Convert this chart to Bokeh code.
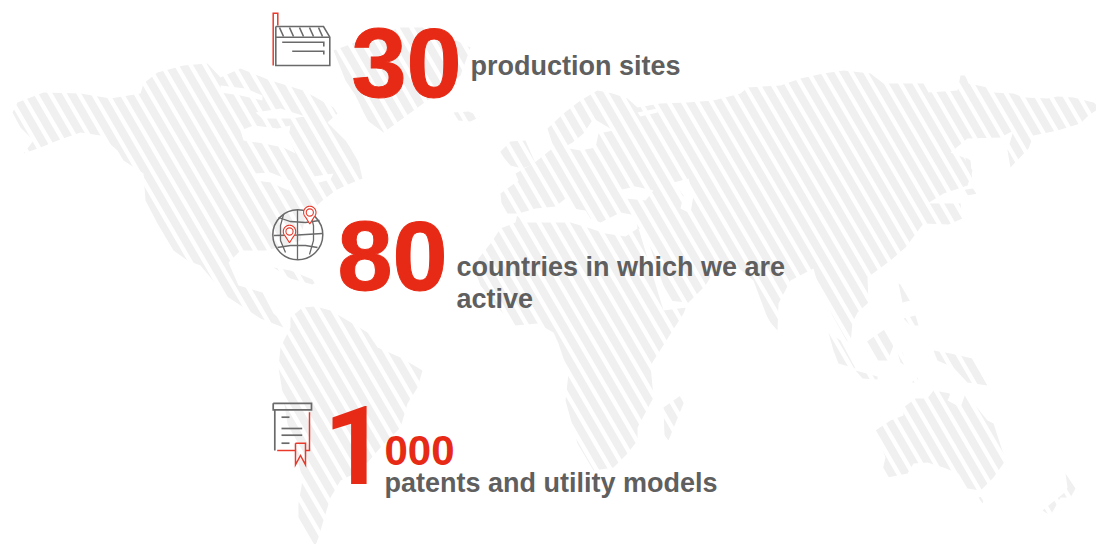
from bokeh.plotting import figure
from bokeh.embed import file_html
from bokeh.resources import INLINE
from bokeh.core.properties import value
import numpy as np

RED = "#e72a15"
GRAY = "#5f5f5f"
ICON = "#6a6a6a"
MAP = "#f0f0f0"

north_america = [(12,112),(17,102),(43,92),(80,93),(110,98),(140,93),(143,83),(157,72),(183,65),(207,63),(220,77),(240,68),(270,80),(303,90),(333,107),(337,113),(327,122),(345,140),(357,157),(362,178),(345,185),(335,190),(322,200),(305,215),(300,240),(285,245),(265,250),(240,250),(228,262),(238,285),(262,292),(273,313),(283,322),(283,327),(260,318),(225,295),(200,265),(187,260),(173,250),(157,223),(145,200),(143,173),(123,160),(117,150),(100,135),(80,132),(57,140),(40,147),(23,153),(33,140),(20,127)]
greenland = [(333,50),(360,40),(400,27),(430,27),(470,47),(460,75),(440,90),(420,105),(383,132),(367,120),(355,95),(345,80)]
iceland = [(453,112),(468,111),(480,116),(470,121),(458,120)]
cuba = [(273,267),(290,270),(317,281),(312,284),(290,278)]
south_america = [(290,317),(302,307),(315,306),(330,310),(347,320),(367,332),(377,347),(400,357),(422,370),(417,387),(407,403),(400,427),(380,447),(360,470),(340,480),(330,497),(323,520),(318,537),(313,550),(298,523),(298,503),(302,480),(297,457),(287,423),(278,367),(280,347),(290,327)]
eurasia_africa = [(500,193),(518,180),(515,173),(533,163),(553,147),(547,128),(563,113),(580,100),(597,90),(612,93),(627,98),(637,107),(660,103),(687,102),(713,100),(740,93),(747,87),(780,85),(800,78),(823,73),(843,70),(870,73),(883,83),(923,83),(928,92),(957,90),(960,75),(965,75),(968,83),(987,87),(993,92),(1013,93),(1023,97),(1047,98),(1057,96),(1073,97),(1093,102),(1100,107),(1088,115),(1080,123),(1057,130),(1033,135),(1028,148),(1010,167),(1007,150),(1013,130),(1000,137),(967,138),(950,152),(963,157),(972,170),(967,185),(943,193),(927,203),(960,203),(962,218),(948,224),(923,223),(905,247),(890,260),(867,277),(868,302),(857,312),(852,322),(850,343),(846,340),(832,315),(823,295),(820,293),(813,268),(790,280),(778,303),(777,330),(768,320),(753,280),(735,265),(715,268),(705,285),(687,303),(683,313),(650,365),(653,397),(637,427),(637,440),(627,453),(613,467),(593,470),(577,443),(565,400),(568,373),(558,343),(553,332),(537,323),(515,325),(500,310),(480,285),(475,272),(478,258),(490,243),(500,228),(515,222),(517,213),(502,213)]
uk = [(499,152),(510,141),(525,140),(535,163),(522,168),(510,165)]
madagascar = [(663,407),(683,393),(683,403),(672,430),(668,440),(664,435)]
sakhalin = [(965,157),(970,160),(972,182),(966,178)]
japan = [(960,190),(972,188),(978,193),(966,195)]
sumatra = [(828,332),(840,340),(855,368),(838,363),(833,350)]
java = [(855,370),(866,373),(877,376),(877,379),(862,378)]
borneo = [(865,342),(887,327),(893,345),(887,360),(873,360)]
sulawesi = [(897,352),(902,352),(908,367),(900,362)]
philippines = [(898,283),(903,285),(910,300),(902,302)]
mindanao = [(903,318),(915,315),(918,325),(910,325)]
new_guinea = [(933,350),(950,353),(972,358),(987,385),(967,382),(953,367),(937,360)]
timor = [(911,382),(917,377),(918,382)]
australia = [(875,430),(890,420),(903,415),(903,407),(915,398),(927,398),(933,390),(950,393),(947,400),(960,407),(965,393),(987,420),(993,423),(1005,460),(993,477),(980,490),(967,488),(958,473),(943,467),(927,462),(913,463),(907,473),(887,477),(882,470),(885,457)]
tasmania = [(978,497),(985,495),(982,503)]
new_zealand = [(1065,473),(1075,488),(1070,497),(1060,497),(1050,515),(1042,510),(1063,493),(1067,487)]

hudson_bay = [(240,130),(253,125),(277,128),(290,125),(288,137),(295,153),(283,147),(263,143),(243,140)]
lakes = [(252,173),(270,172),(290,180),(288,190),(270,182),(255,180)]
st_lawrence = [(313,176),(333,173),(330,179),(315,183)]
arctic_gap = [(220,85),(245,88),(262,95),(262,100),(240,95),(220,92)]
arctic_gap2 = [(255,112),(280,108),(305,116),(290,118),(262,118)]
mediterranean = [(515,214),(535,208),(555,206),(565,198),(572,208),(585,210),(590,218),(600,222),(620,212),(636,215),(637,228),(625,236),(605,233),(590,228),(570,222),(545,222),(525,222)]
black_sea = [(617,190),(635,186),(653,190),(645,200),(625,198)]
caspian = [(673,182),(688,178),(693,195),(690,213),(680,208),(683,195)]
baltic = [(563,147),(580,150),(595,147),(598,133),(613,130),(593,118),(583,133),(572,142)]
white_sea = [(637,112),(657,108),(657,112),(640,116)]
red_sea = [(638,228),(644,230),(668,300),(687,302),(686,307),(663,310)]

land = [north_america, greenland, iceland, cuba, south_america, eurasia_africa, uk, madagascar, sakhalin, japan, sumatra, java, borneo, sulawesi, philippines, mindanao, new_guinea, timor, australia, tasmania, new_zealand]
waters = [hudson_bay, lakes, st_lawrence, arctic_gap, arctic_gap2, mediterranean, black_sea, caspian, baltic, white_sea, red_sea]

stats = ["30", "80", "1", "000"]
labels = ["production sites", "countries in which we are", "active", "patents and utility models"]

p = figure(width=1096, height=544, x_range=(0, 1096), y_range=(544, 0), toolbar_location=None,
           output_backend="svg", min_border=0, outline_line_color=None, background_fill_color="white")
p.xaxis.visible = False
p.yaxis.visible = False
p.grid.visible = False

p.patches([[q[0] for q in s] for s in land], [[q[1] for q in s] for s in land], fill_color=MAP, line_color=None)
p.patches([[q[0] for q in s] for s in waters], [[q[1] for q in s] for s in waters], fill_color="white", line_color=None)

# white diagonal gaps cutting the land into stripes
slope, period, gap_w, phase = 0.58, 14.27, 5.0, 752.0
offs = np.arange(-60, 60) * period + phase
p.multi_line([[o, o + slope * 600] for o in offs], [[0, 600] for _ in offs], line_color="white",
             line_width=gap_w * np.cos(np.arctan(slope)))

def lines(segs, color, w=1.6):
    p.multi_line([[q[0] for q in s] for s in segs], [[q[1] for q in s] for s in segs],
                 line_color=color, line_width=w, line_join="miter")

# factory icon
lines([[(272.7,65),(272.7,12.7),(277.3,12.7),(277.3,25)]], "#e8392a", 1.5)
lines([[(275.3,26),(323,26),(329.3,36.7),(329.3,65),(275.3,65),(275.3,26)],
       [(275.3,36.7),(329.3,36.7)],
       [(279,27),(283,36)],[(289,27),(293,36)],[(299,27),(303,36)],[(309,27),(313,36)],[(318,27),(322,36)],
       [(281.7,41.7),(323.3,41.7),(323.3,46)],[(291.7,50.7),(323.3,50.7),(323.3,54)]], ICON, 1.6)

# globe icon
p.circle(x=[297.3], y=[234.3], radius=25, fill_color=None, line_color=ICON, line_width=1.5)
lines([[(297,209.5),(297,259)],
       [(278,217),(290,221),(305,222),(319,220)],
       [(273.3,235),(297,234.5),(322,233)],
       [(277,247),(290,245),(305,245),(317,247)],
       [(283,214),(280,225),(280,240),(285,252)],
       [(310,213),(313,225),(313,240),(309,254)]], ICON, 1.3)

def pin(cx, cy, r, tip):
    a = np.linspace(np.pi * 0.75, np.pi * 2.25, 40)
    xs = list(cx + r * np.cos(a)) + [cx]
    ys = list(cy + r * np.sin(a)) + [tip]
    xs.append(xs[0]); ys.append(ys[0])
    p.patch(xs, ys, fill_color="white", line_color="#e8392a", line_width=1.1)
    p.circle(x=[cx], y=[cy], radius=r * 0.58, fill_color="white", line_color="#e8392a", line_width=1.1)

pin(309.3, 212, 6.2, 223.5)
pin(289, 231, 6.2, 242.3)

# certificate icon
lines([[(272.7,402.8),(311,402.8),(311,409.3),(272.7,409.3),(272.7,402.8)],
       [(274.3,409.3),(274.3,450)],
       [(281,416.7),(289,416.7)],[(281,428),(301.7,428)],[(281,434.7),(301.7,434.7)],[(281,442.7),(289,442.7)]], ICON, 1.7)
lines([[(309,411.7),(309,450),(305,450)],[(276.7,450),(295,450)],
       [(295,442.7),(305,442.7),(305,464.3),(300,455),(295,464.3),(295,442.7)]], "#e8392a", 1.5)

FONT = value("Liberation Sans")
k = 0.365
p.text(x=[351, 337], y=[99 - k*99, 292 - k*99], text=stats[:2], text_font=FONT, text_font_style="bold",
       text_font_size="99px", text_color=RED, text_outline_color=RED, text_baseline="alphabetic")
p.text(x=[323], y=[485 - k*110], text=[stats[2]], text_font=value("Roboto"), text_font_style="bold",
       text_font_size="110px", text_color=RED, text_baseline="alphabetic")
p.text(x=[384], y=[465 - k*42], text=[stats[3]], text_font=FONT, text_font_style="bold",
       text_font_size="42px", text_color=RED, text_baseline="alphabetic")
p.text(x=[470, 456, 456, 384], y=[75 - k*27, 276 - k*27, 308 - k*27, 492 - k*27], text=labels, text_font=FONT,
       text_font_style="bold", text_font_size="27px", text_color=GRAY, text_baseline="alphabetic")

open("out.html", "w").write(file_html(p, INLINE))
